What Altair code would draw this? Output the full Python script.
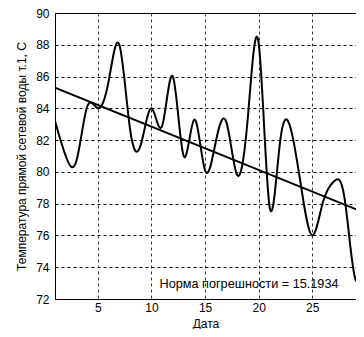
import altair as alt
import pandas as pd

# Daily values
days = list(range(1, 31))
temps = [83.2, 81.0, 80.7, 84.1, 84.0, 85.7, 88.0, 82.7, 81.7, 84.0,
         82.9, 86.0, 81.0, 83.3, 80.1, 81.9, 83.1, 79.8, 83.5, 88.1,
         77.9, 81.9, 82.7, 78.9, 76.0, 78.1, 79.4, 78.4, 73.3, 75.3]

# Trend line end points
trend_days = [1, 30]
trend_temps = [85.3, 77.4]

annotation = ["Норма погрешности = 15.1934"]
annotation_day = [19.1]
annotation_temp = [72.95]
x_ticks = [5, 10, 15, 20, 25, 30]
y_ticks = [72, 74, 76, 78, 80, 82, 84, 86, 88, 90]

FONT = "Liberation Sans"

df = pd.DataFrame({"day": days, "temp": temps})
df_trend = pd.DataFrame({"day": trend_days, "temp": trend_temps})
df_text = pd.DataFrame({"day": annotation_day, "temp": annotation_temp, "label": annotation})

x_scale = alt.Scale(domain=[1, 29.08], nice=False, zero=False)
y_scale = alt.Scale(domain=[72, 90], nice=False, zero=False)

x_axis = alt.Axis(values=x_ticks, title="Дата", grid=True, gridDash=[3, 3],
                  gridColor="#000", gridOpacity=0.8, ticks=False, domain=False,
                  labelPadding=3, labelOverlap=False, labelFlush=False,
                  titleBaseline="alphabetic", titleY=28,
                  labelFont=FONT, titleFont=FONT,
                  labelFontSize=12, titleFontSize=12, titleFontWeight="normal",
                  labelColor="#000", titleColor="#000")
y_axis = alt.Axis(values=y_ticks, title="Температура прямой сетевой воды т.1, С",
                  grid=True, gridDash=[3, 3], gridColor="#000", gridOpacity=1,
                  ticks=False, domain=False, labelPadding=6, titlePadding=7,
                  labelOverlap=False, labelFlush=False,
                  labelFont=FONT, titleFont=FONT, labelFontSize=12, titleFontSize=12,
                  titleFontWeight="normal", labelColor="#000", titleColor="#000")

X = alt.X("day:Q", scale=x_scale, axis=x_axis)
Y = alt.Y("temp:Q", scale=y_scale, axis=y_axis)

curve = alt.Chart(df).mark_line(color="#000", strokeWidth=2, interpolate="natural",
                                clip=True).encode(x=X, y=Y)

trend = alt.Chart(df_trend).mark_line(color="#000", strokeWidth=1.8, clip=True).encode(
    x=X, y=Y)

text = alt.Chart(df_text).mark_text(font=FONT, fontSize=12.7, color="#000",
                                    align="center", baseline="middle").encode(
    x=X, y=Y, text="label:N")

chart = alt.layer(curve, trend, text).properties(
    width=301, height=286,
    autosize=alt.AutoSizeParams(type="none"),
    padding={"left": 47, "top": 5, "right": 0, "bottom": 30},
    background="#fff",
).configure_view(stroke="#000", strokeWidth=1)

chart.save("out.html", embed_options={"renderer": "svg", "actions": False})
